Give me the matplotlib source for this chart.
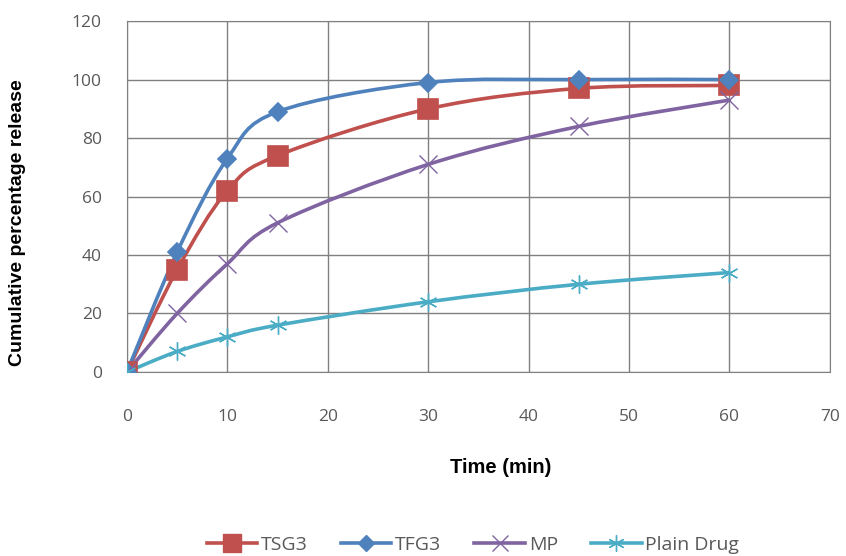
import matplotlib.pyplot as plt
from matplotlib.path import Path
from matplotlib.patches import PathPatch
import numpy as np

# Données
time_min = [0, 5, 10, 15, 30, 45, 60]
tsg3 = [0, 35, 62, 74, 90, 97, 98]
tfg3 = [0, 41, 73, 89, 99, 100, 100]
mp = [0, 20, 37, 51, 71, 84, 93]
plain_drug = [0, 7, 12, 16, 24, 30, 34]

series = [
    ("TSG3", tsg3, "#C0504D", "s", 14),
    ("TFG3", tfg3, "#4F81BD", "D", 9.5),
    ("MP", mp, "#8064A2", "x", 13),
    ("Plain Drug", plain_drug, "#4BACC6", (6, 2, 0), 13),
]


def smooth_path(x, y, t=1 / 6):
    # courbe lissée type Excel (Catmull-Rom -> Bezier cubique)
    x = np.asarray(x, float)
    y = np.asarray(y, float)
    verts = [(x[0], y[0])]
    codes = [Path.MOVETO]
    n = len(x)
    for i in range(n - 1):
        p0 = (x[max(i - 1, 0)], y[max(i - 1, 0)])
        p1 = (x[i], y[i])
        p2 = (x[i + 1], y[i + 1])
        p3 = (x[min(i + 2, n - 1)], y[min(i + 2, n - 1)])
        c1 = (p1[0] + (p2[0] - p0[0]) * t, p1[1] + (p2[1] - p0[1]) * t)
        c2 = (p2[0] - (p3[0] - p1[0]) * t, p2[1] - (p3[1] - p1[1]) * t)
        verts += [c1, c2, p2]
        codes += [Path.CURVE4] * 3
    return Path(verts, codes)


fig = plt.figure(figsize=(8.46, 5.56), dpi=100)
ax = fig.add_axes([0.150, 0.331, 0.831, 0.631])

for name, vals, color, marker, ms in series:
    ax.add_patch(PathPatch(smooth_path(time_min, vals), facecolor="none",
                           edgecolor=color, lw=2.6, zorder=3))
    ax.plot(time_min, vals, linestyle="none", marker=marker, color=color,
            markersize=ms, markeredgewidth=1.2 if marker not in ("x", (6, 2, 0)) else 1.0,
            zorder=4)
    # poignée de légende
    ax.plot([], [], color=color, lw=2.6, marker=marker, markersize=ms * 0.9, label=name)

ax.set_xlim(0, 70)
ax.set_ylim(0, 120)
ax.set_xticks(range(0, 71, 10))
ax.set_yticks(range(0, 121, 20))
ax.grid(True, color="#808080", lw=1.0)
ax.set_axisbelow(True)
for sp in ax.spines.values():
    sp.set_color("#808080")
ax.tick_params(length=0, labelsize=12.5, colors="#595959")
ax.tick_params(axis="x", pad=27)
ax.tick_params(axis="y", pad=18)
for lab in ax.get_xticklabels() + ax.get_yticklabels():
    lab.set_family("Open Sans")

ax.set_xlabel("Time (min)", fontsize=14.5, fontweight="bold", family="Liberation Sans")
ax.xaxis.set_label_coords(0.532, -0.245)
ax.set_ylabel("Cumulative percentage release", fontsize=14, fontweight="bold",
              family="Liberation Sans")
ax.yaxis.set_label_coords(-0.144, 0.427)

handles, labels = ax.get_legend_handles_labels()
fig.legend(handles, labels, loc="center", bbox_to_anchor=(0.559, 0.02), ncol=4,
           frameon=False, prop={"family": "Open Sans", "size": 14}, handlelength=2.6,
           columnspacing=1.7, handletextpad=0.2, labelcolor="#595959")

plt.savefig("out.png", dpi=100)
